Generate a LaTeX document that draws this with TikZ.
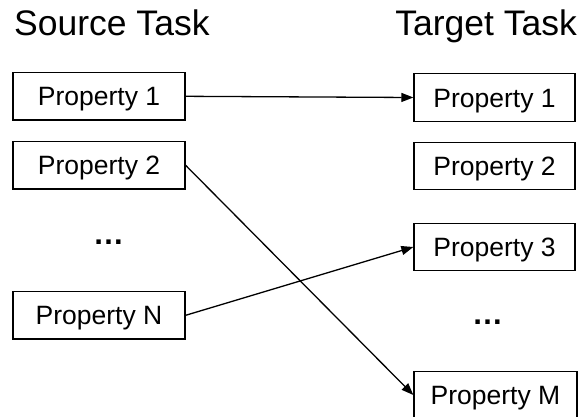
\documentclass[tikz,border=0pt]{standalone}
\usepackage{fontspec}
\setmainfont{Liberation Sans}
\usetikzlibrary{arrows.meta}
\tikzset{
  propbox/.style={draw=black, line width=1.3pt, fill=white, inner sep=0pt,
    font=\fontsize{26.5}{30}\selectfont, text height=19.3pt, text depth=0pt},
  leftbox/.style={propbox, minimum width=172pt, minimum height=47.5pt},
  rightbox/.style={propbox, minimum width=161pt, minimum height=47.5pt},
  titletext/.style={inner sep=0pt, font=\fontsize{35.5}{40}\selectfont},
  dotstext/.style={inner sep=0pt, font=\bfseries\fontsize{31}{36}\selectfont},
  link/.style={draw=black, line width=1.3pt, -{Triangle[length=12pt,width=9pt]}}
}
\begin{document}
\begin{tikzpicture}[x=1pt,y=-1pt]
\useasboundingbox (0,0) rectangle (584,416);
\fill[white] (0,0) rectangle (584,416);
% titles
\node[titletext, anchor=base west] (src) at (14,35) {Source Task};
\node[titletext, anchor=base east] (tgt) at (577,35) {Target Task};
% left column
\node[leftbox] (l1) at (99,96.3) {Property 1};
\node[leftbox] (l2) at (99,165.3) {Property 2};
\node[dotstext, anchor=base] (ldots) at (108.5,244.5) {…};
\node[leftbox] (ln) at (99,315.3) {Property N};
% right column
\node[rightbox] (r1) at (494.5,97.5) {Property 1};
\node[rightbox] (r2) at (494.5,166) {Property 2};
\node[rightbox] (r3) at (494.5,247) {Property 3};
\node[dotstext, anchor=base] (rdots) at (487.5,324.5) {…};
\node[rightbox, minimum width=163pt] (rm) at (495.5,395) {Property M};
% connectors
\draw[link] (l1.east) -- (r1.west);
\draw[link] (l2.east) -- (rm.west);
\draw[link] (ln.east) -- (r3.west);
\end{tikzpicture}
\end{document}
